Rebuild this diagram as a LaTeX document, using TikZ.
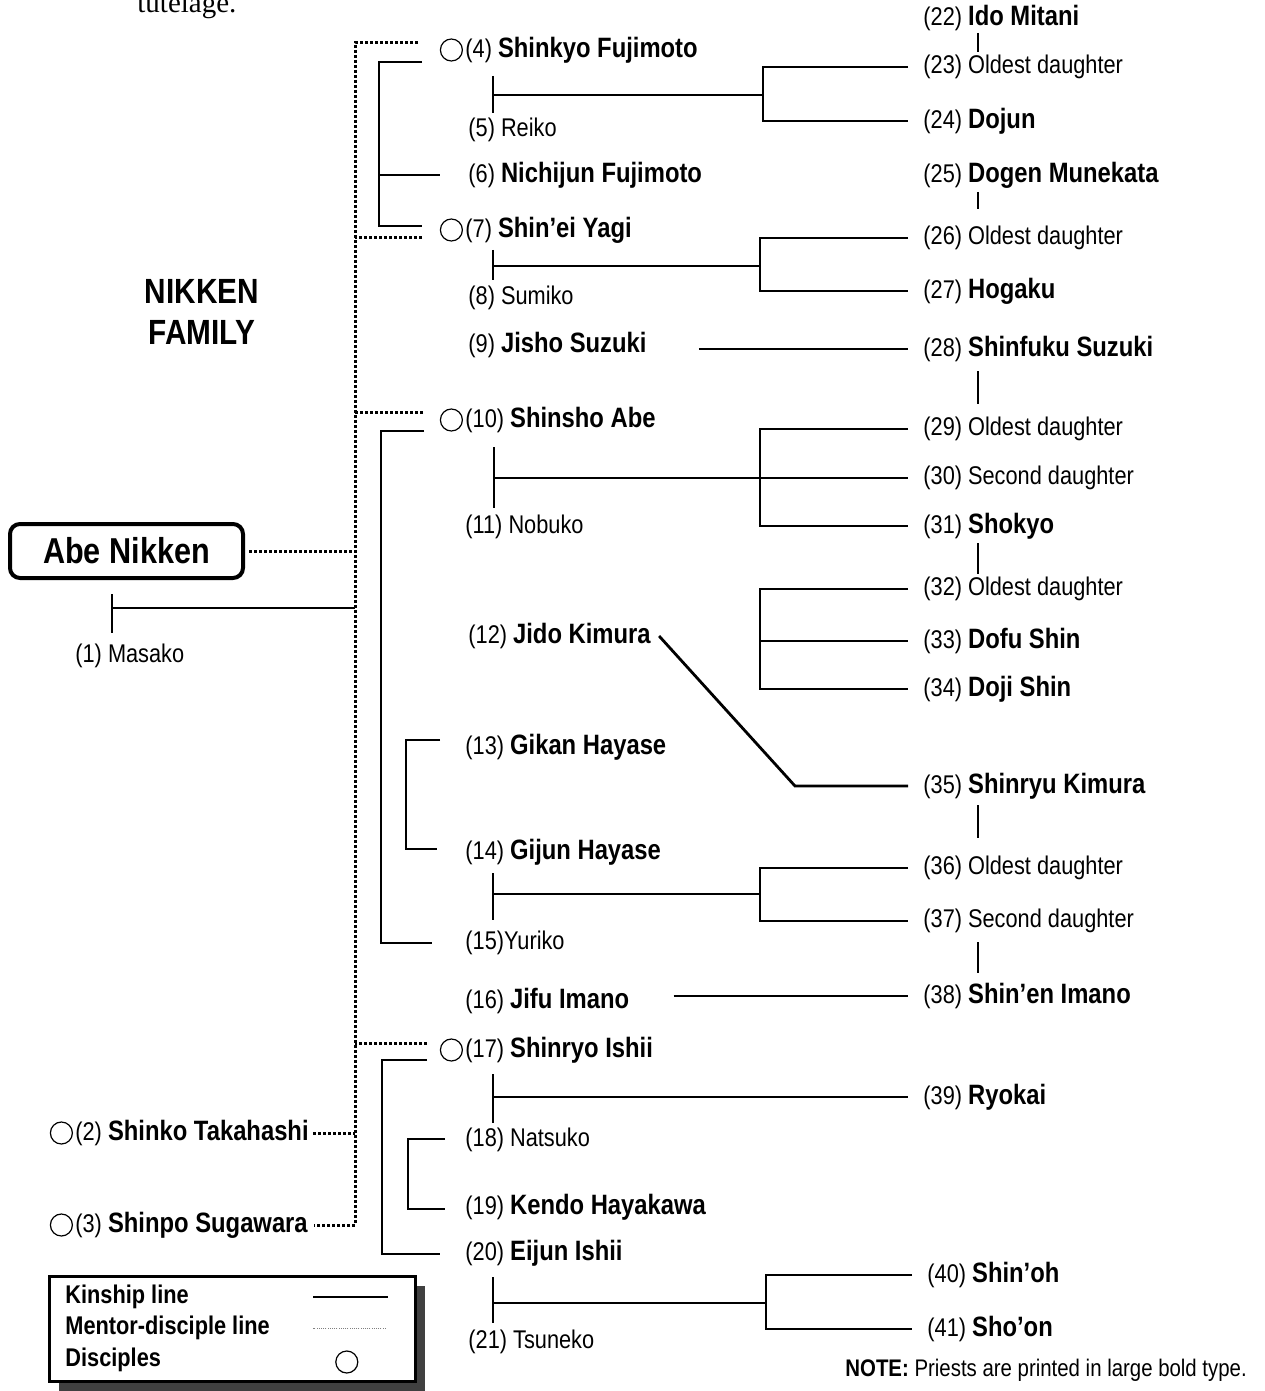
\documentclass[tikz,border=0pt]{standalone}
\usepackage{fontspec}
\setmainfont{Liberation Sans}[FakeStretch=0.85]
\newfontfamily\tutfont{Liberation Serif}
\usetikzlibrary{positioning,shadows}

\newcommand{\pname}[1]{{\fontsize{14}{16}\selectfont\bfseries #1}}

\begin{document}
\begin{tikzpicture}[x=0.5pt, y=-0.5pt, font=\fontsize{12.8}{15}\selectfont,
      kin/.style={line width=1.4pt},
      mentor/.style={line width=1.5pt, dash pattern=on 1.5pt off 1pt},
      pers/.style={anchor=west, inner sep=0pt},
      kid/.style={anchor=west, inner xsep=7.5pt, inner ysep=0pt},
      dsc/.style={circle, draw, line width=0.6pt, minimum size=11pt, inner sep=0pt}]
    \useasboundingbox (0,0) rectangle (1264,1391);
    \node[anchor=base west, inner sep=0pt, font=\tutfont\fontsize{14.5}{16}\selectfont] (tut) at (137,13) {tutelage.};

    % head of the family
    \node[draw, line width=2pt, rounded corners=5pt, minimum width=116.5pt, minimum height=27pt,
          font=\fontsize{18}{20}\selectfont\bfseries] (abe) at (126.5,551) {Abe Nikken};
    \node[font=\fontsize{17.5}{20.5}\selectfont\bfseries, align=center] (fam) at (202,312) {NIKKEN\\FAMILY};
    \node[pers] (p1) at (75,656) {(1) Masako};
    \node[pers] (p2) at (75,1133) {(2) \pname{Shinko Takahashi}};
    \node[pers] (p3) at (75,1225) {(3) \pname{Shinpo Sugawara}};
    \node[dsc, left=1pt of p2] (c2) {};
    \node[dsc, left=1pt of p3] (c3) {};

    % second column
    \node[pers] (p4) at (465,50) {(4) \pname{Shinkyo Fujimoto}};
    \node[pers] (p5) at (468,130) {(5) Reiko};
    \node[pers] (p6) at (468,175) {(6) \pname{Nichijun Fujimoto}};
    \node[pers] (p7) at (465,230) {(7) \pname{Shin’ei Yagi}};
    \node[pers] (p8) at (468,298) {(8) Sumiko};
    \node[pers] (p9) at (468,345) {(9) \pname{Jisho Suzuki}};
    \node[pers] (p10) at (465,420) {(10) \pname{Shinsho Abe}};
    \node[pers] (p11) at (465,527) {(11) Nobuko};
    \node[pers] (p12) at (468,636) {(12) \pname{Jido Kimura}};
    \node[pers] (p13) at (465,747) {(13) \pname{Gikan Hayase}};
    \node[pers] (p14) at (465,852) {(14) \pname{Gijun Hayase}};
    \node[pers] (p15) at (465,943) {(15)Yuriko};
    \node[pers] (p16) at (465,1001) {(16) \pname{Jifu Imano}};
    \node[pers] (p17) at (465,1050) {(17) \pname{Shinryo Ishii}};
    \node[pers] (p18) at (465,1140) {(18) Natsuko};
    \node[pers] (p19) at (465,1207) {(19) \pname{Kendo Hayakawa}};
    \node[pers] (p20) at (465,1253) {(20) \pname{Eijun Ishii}};
    \node[pers] (p21) at (468,1342) {(21) Tsuneko};
    \node[dsc, left=1pt of p4] (c4) {};
    \node[dsc, left=1pt of p7] (c7) {};
    \node[dsc, left=1pt of p10] (c10) {};
    \node[dsc, left=1pt of p17] (c17) {};

    % third column
    \node[kid] (p22) at (908,18) {(22) \pname{Ido Mitani}};
    \node[kid] (p23) at (908,67) {(23) Oldest daughter};
    \node[kid] (p24) at (908,121) {(24) \pname{Dojun}};
    \node[kid] (p25) at (908,175) {(25) \pname{Dogen Munekata}};
    \node[kid] (p26) at (908,238) {(26) Oldest daughter};
    \node[kid] (p27) at (908,291) {(27) \pname{Hogaku}};
    \node[kid] (p28) at (908,349) {(28) \pname{Shinfuku Suzuki}};
    \node[kid] (p29) at (908,429) {(29) Oldest daughter};
    \node[kid] (p30) at (908,478) {(30) Second daughter};
    \node[kid] (p31) at (908,526) {(31) \pname{Shokyo}};
    \node[kid] (p32) at (908,589) {(32) Oldest daughter};
    \node[kid] (p33) at (908,641) {(33) \pname{Dofu Shin}};
    \node[kid] (p34) at (908,689) {(34) \pname{Doji Shin}};
    \node[kid] (p35) at (908,786) {(35) \pname{Shinryu Kimura}};
    \node[kid] (p36) at (908,868) {(36) Oldest daughter};
    \node[kid] (p37) at (908,921) {(37) Second daughter};
    \node[kid] (p38) at (908,996) {(38) \pname{Shin’en Imano}};
    \node[kid] (p39) at (908,1097) {(39) \pname{Ryokai}};
    \node[kid] (p40) at (912,1275) {(40) \pname{Shin’oh}};
    \node[kid] (p41) at (912,1329) {(41) \pname{Sho’on}};

    % junctions
    \coordinate (dm) at (355,600);
    \coordinate (m1) at (112,608);
    \coordinate (m45) at (493,95);
    \coordinate (m78) at (493,266);
    \coordinate (m1011) at (494,478);
    \coordinate (m1415) at (493,894);
    \coordinate (m1718) at (493,1097);
    \coordinate (m2021) at (493,1303);
    \coordinate (f45) at (763,95);
    \coordinate (f78) at (760,266);
    \coordinate (f1011) at (760,478);
    \coordinate (s3234) at (760,641);
    \coordinate (f1415) at (760,894);
    \coordinate (f2021) at (766,1303);
    \coordinate (k35) at (795,786);
    \coordinate (tk) at (978,0);
    \coordinate (b1) at (379,150);
    \coordinate (b2) at (381,700);
    \coordinate (b3) at (406,800);
    \coordinate (b4) at (382,1150);
    \coordinate (b5) at (408,1170);

    % mentor-disciple lines
    \path ([shift={(-43,8)}]p7.west) coordinate (t7);
    \path ([shift={(-42,-8)}]p10.west) coordinate (t10);
    \path ([shift={(-38,-7)}]p17.west) coordinate (t17);
    \draw[mentor] ([shift={(-47,-7)}]p4.west) -| (dm) |- ([xshift=3pt]p3.east);
    \draw[mentor] (t7) -- (t7 -| dm);
    \draw[mentor] (t10) -- (t10 -| dm);
    \draw[mentor] (t17) -- (t17 -| dm);
    \draw[mentor] ([xshift=2pt]abe.east) -- (abe.east -| dm);
    \draw[mentor] ([xshift=2pt]p2.east) -- (p2.east -| dm);

    % marriages
    \draw[kin] (m1) ++(0,-14) -- ++(0,39);
    \draw[kin] (m1) -- (m1 -| dm);
    \draw[kin] (m45) ++(0,-19) -- ++(0,37);
    \draw[kin] (m78) ++(0,-16) -- ++(0,30);
    \draw[kin] (m1011) ++(0,-31) -- ++(0,61);
    \draw[kin] (m1415) ++(0,-21) -- ++(0,47);
    \draw[kin] (m1718) ++(0,-23) -- ++(0,49);
    \draw[kin] (m2021) ++(0,-26) -- ++(0,46);
    \draw[line width=0.8pt] (tk |- p22) ++(0,15) -- ++(0,19);
    \draw[line width=0.8pt] (tk |- p25) ++(0,17) -- ++(0,17);
    \draw[kin] (tk |- p28) ++(0,22) -- ++(0,33);
    \draw[kin] (tk |- p31) ++(0,17) -- ++(0,31);
    \draw[kin] (tk |- p35) ++(0,19) -- ++(0,33);
    \draw[kin] (tk |- p37) ++(0,21) -- ++(0,31);

    % children
    \draw[kin] (m45) -- (f45);
    \draw[kin] (p23.west) -| (f45) |- (p24.west);
    \draw[kin] (m78) -- (f78);
    \draw[kin] (p26.west) -| (f78) |- (p27.west);
    \draw[kin] (m1011) -- (p30.west);
    \draw[kin] (p29.west) -| (f1011) |- (p31.west);
    \draw[kin] (p32.west) -| (s3234) |- (p34.west);
    \draw[kin] (s3234) -- (p33.west);
    \draw[kin] ([xshift=4pt]p12.east) -- (k35) -- (p35.west);
    \draw[kin] (m1415) -- (f1415);
    \draw[kin] (p36.west) -| (f1415) |- (p37.west);
    \draw[kin] (m1718) -- (p39.west);
    \draw[kin] (m2021) -- (f2021);
    \draw[kin] (p40.west) -| (f2021) |- (p41.west);
    \path ([xshift=26pt]p9.east) coordinate (j9);
    \path ([xshift=22pt]p16.east) coordinate (j16);
    \draw[kin] (j9 |- p28.west) -- (p28.west);
    \draw[kin] (j16 |- p38.west) -- (p38.west);

    % brothers and sisters
    \draw[kin] ([shift={(-43,12)}]p4.west) -| (b1) |- ([shift={(-43,-4)}]p7.west);
    \draw[kin] (b1 |- p6) -- ([xshift=-14pt]p6.west);
    \draw[kin] ([shift={(-41,11)}]p10.west) -| (b2) |- ([shift={(-33,0)}]p15.west);
    \draw[kin] ([shift={(-25,-7)}]p13.west) -| (b3) |- ([shift={(-28,-3)}]p14.west);
    \draw[kin] ([shift={(-38,10)}]p17.west) -| (b4) |- ([shift={(-25,1)}]p20.west);
    \draw[kin] ([shift={(-20,-1)}]p18.west) -| (b5) |- ([shift={(-20,2)}]p19.west);

    % legend
    \node[draw, fill=white, line width=1.3pt, minimum width=183pt, minimum height=52.5pt,
          drop shadow={shadow xshift=4.5pt, shadow yshift=-4.5pt, fill=black!75, opacity=1}] (lg) at (232.5,1329) {};
    \node[pers, font=\fontsize{12.8}{15}\selectfont\bfseries] (lk) at (65,1297) {Kinship line};
    \node[pers, font=\fontsize{12.8}{15}\selectfont\bfseries] (lm) at (65,1328) {Mentor-disciple line};
    \node[pers, font=\fontsize{12.8}{15}\selectfont\bfseries] (ld) at (65,1360) {Disciples};
    \draw[kin] (lk -| lg.east) ++(-29,0) -- ++(-75,0);
    \draw[gray, line width=0.5pt, dash pattern=on 0.5pt off 0.6pt] (lm -| lg.east) ++(-31,0) -- ++(-73,0);
    \path (ld -| lg.east) ++(-70,2) node[dsc] (lc) {};

    \node[pers, font=\fontsize{12}{14}\selectfont] (note) at (845,1370) {\textbf{NOTE:} Priests are printed in large bold type.};
  \end{tikzpicture}
\end{document}
